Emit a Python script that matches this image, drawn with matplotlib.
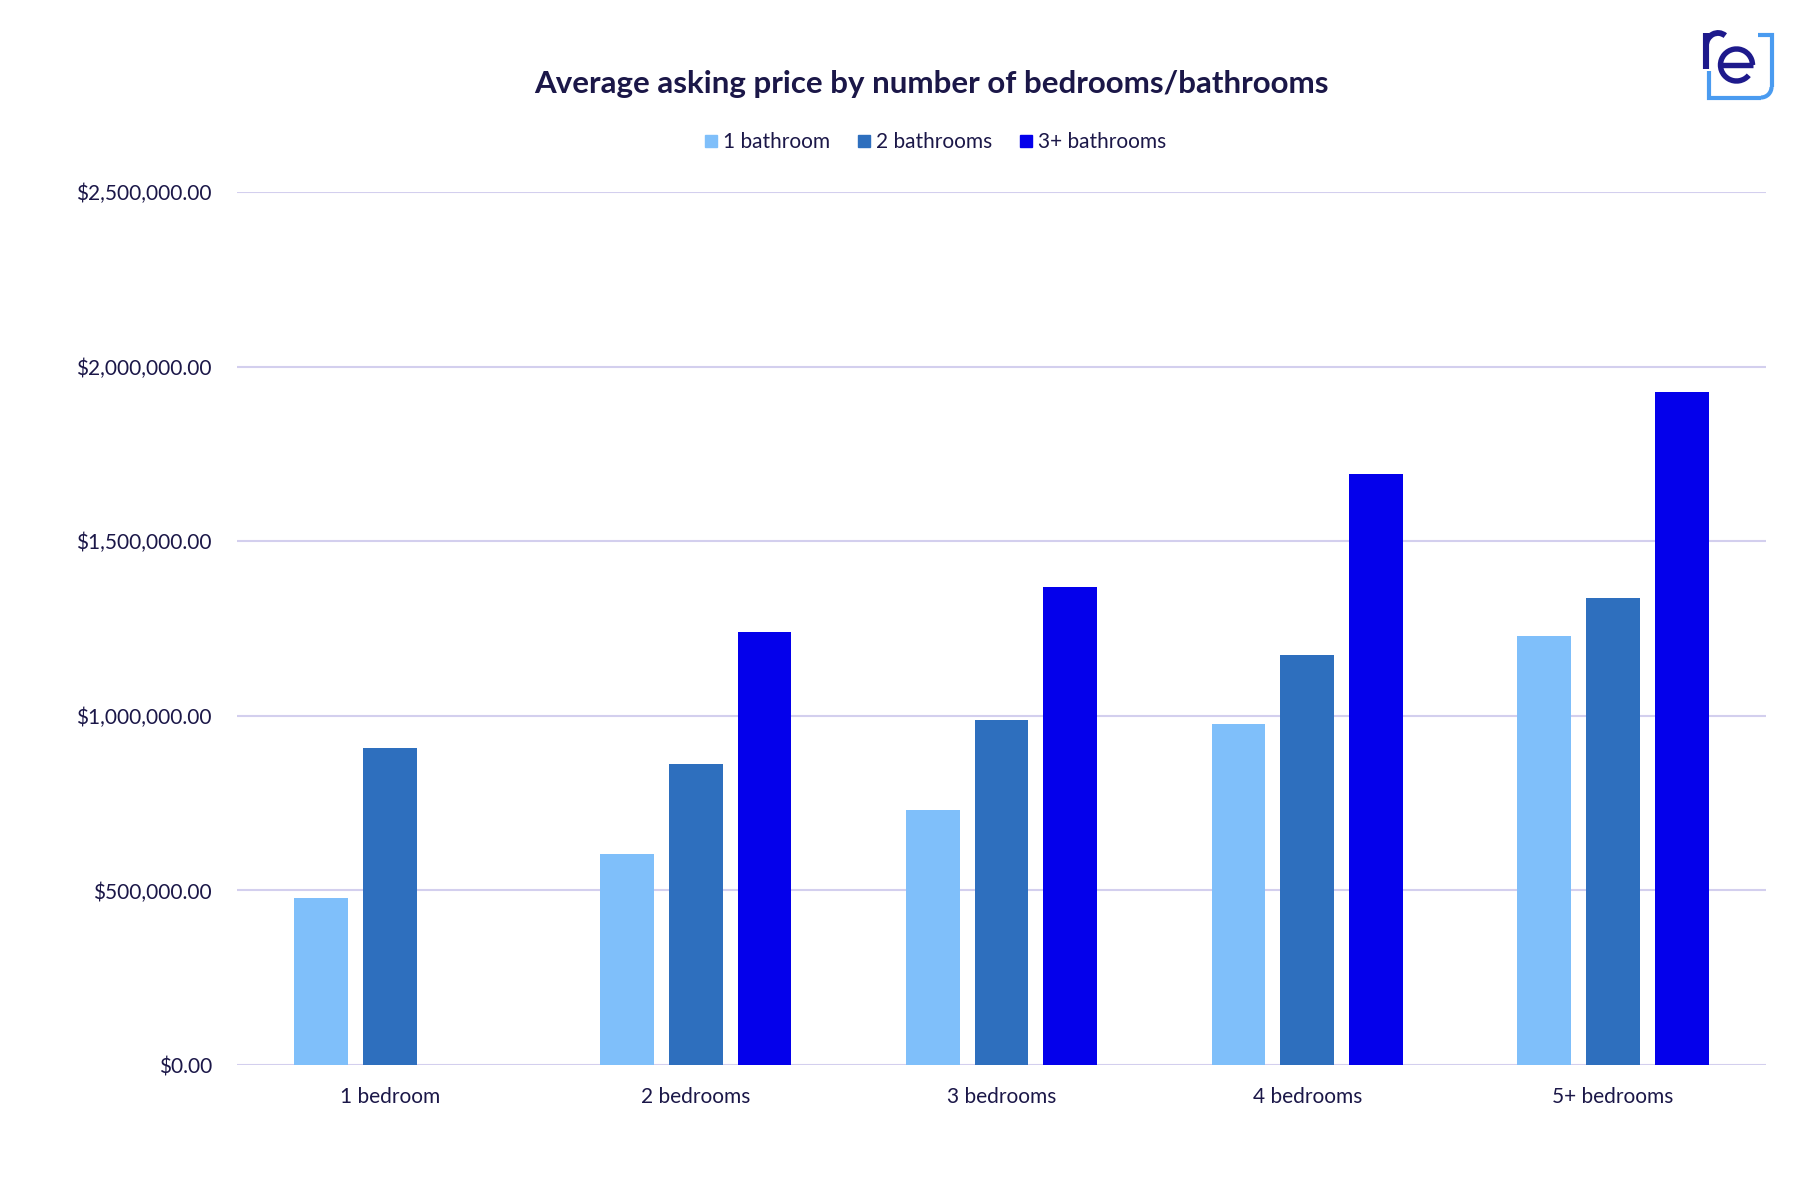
import matplotlib
matplotlib.use("Agg")
import matplotlib.pyplot as plt
import numpy as np
from matplotlib.lines import Line2D
from matplotlib.patches import Arc
from matplotlib.ticker import FuncFormatter

plt.rcParams['font.family'] = ['Lato', 'DejaVu Sans']

# data
bedrooms = ['1 bedroom', '2 bedrooms', '3 bedrooms', '4 bedrooms', '5+ bedrooms']
bath_1 = [479000, 605000, 731000, 977000, 1229000]
bath_2 = [908000, 862000, 989000, 1175000, 1338000]
bath_3 = [np.nan, 1241000, 1369000, 1693000, 1928000]
series_names = ['1 bathroom', '2 bathrooms', '3+ bathrooms']
colors = ['#7FBFFA', '#2E6FBE', '#0400EB']
yticks = [0, 500000, 1000000, 1500000, 2000000, 2500000]

text_col = '#1B1748'
grid_col = '#D3CFEE'

fig = plt.figure(figsize=(18.02, 11.96), dpi=100)
ax = fig.add_axes([0.1315, 0.1095, 0.8485, 0.73])

x = np.arange(len(bedrooms))
w = 0.176
off = 0.225
for i, vals in enumerate([bath_1, bath_2, bath_3]):
    ax.bar(x + (i - 1) * off, vals, width=w, color=colors[i],
           label=series_names[i], zorder=3)

ax.set_xlim(-0.5, 4.5)
ax.set_ylim(0, 2500000)
ax.set_yticks(yticks)
ax.yaxis.set_major_formatter(FuncFormatter(lambda v, p: '${:,.2f}'.format(v)))
ax.set_xticks(x)
ax.set_xticklabels(bedrooms)
ax.grid(axis='y', color=grid_col, linewidth=1.5, zorder=0)
ax.set_axisbelow(True)
for s in ax.spines.values():
    s.set_visible(False)
ax.tick_params(axis='y', length=0, pad=18, labelsize=15, labelcolor=text_col)
ax.tick_params(axis='x', length=0, pad=16, labelsize=15, labelcolor=text_col)

# title
fig.text(0.517, 0.93, 'Average asking price by number of bedrooms/bathrooms',
         ha='center', va='center', fontsize=22.5, fontweight='bold', color=text_col)

# legend
handles = [Line2D([], [], marker='s', linestyle='none', markersize=9,
                  color=c) for c in colors]
fig.legend(handles, series_names, loc='center', bbox_to_anchor=(0.518, 0.881),
           ncol=3, frameon=False, fontsize=15, handletextpad=0.1,
           handlelength=1.0, columnspacing=1.1, labelcolor=text_col)

# logo, drawn in pixel coords
lax = fig.add_axes([1680 / 1802, 1 - 115 / 1196, 120 / 1802, 100 / 1196])
lax.set_xlim(1680, 1800)
lax.set_ylim(115, 15)
lax.axis('off')
navy = '#1E1A8C'
lb = '#4A9BF0'
lax.plot([1709, 1709, 1761], [71, 97.5, 97.5], color=lb, lw=3,
         solid_capstyle='butt', solid_joinstyle='miter')
lax.add_patch(Arc((1761, 87), 21, 21, theta1=0, theta2=90, color=lb, lw=3))
lax.plot([1771.5, 1771.5, 1758], [87, 34.5, 34.5], color=lb, lw=3,
         solid_capstyle='butt', solid_joinstyle='miter')
lax.plot([1706, 1706], [33, 69], color=navy, lw=4.4, solid_capstyle='butt')
lax.add_patch(Arc((1718, 46), 24, 26, theta1=180, theta2=305, color=navy, lw=4.2))
lax.add_patch(Arc((1736.5, 65), 32, 32, theta1=40, theta2=360, color=navy, lw=3.9))
lax.plot([1720, 1753], [65, 65], color=navy, lw=3.9, solid_capstyle='butt')

fig.savefig('out.png', dpi=100, facecolor='white')
